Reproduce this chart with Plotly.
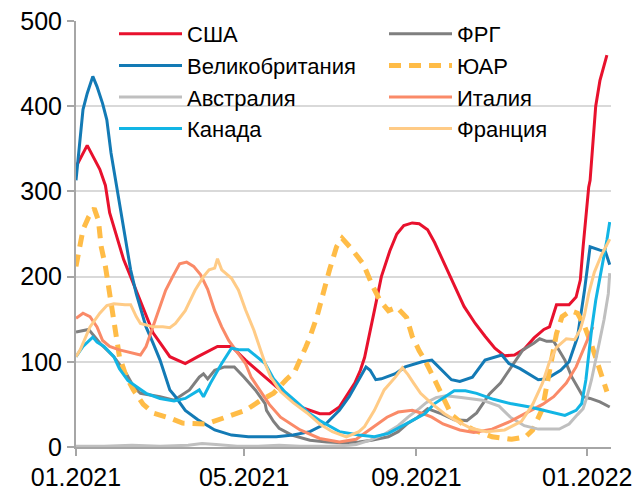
import pandas as pd
import plotly.graph_objects as go

START = pd.Timestamp("2021-01-01")

# ---- data: day offsets from 01.01.2021 and 7-day average values ----
usa_days = [0, 8, 17, 21, 24, 29, 31, 34, 39, 55, 67, 78, 87, 101, 111, 121, 135, 146, 160, 174, 181, 188, 196, 199, 203, 206, 213, 218, 224, 229, 234, 240, 245, 251, 256, 263, 270, 277, 285, 292, 299, 306, 313, 320, 327, 334, 338, 343, 352, 357, 360, 362, 364, 366, 367, 369, 371, 374, 377, 379]
usa_vals = [329, 354, 326, 307, 275, 248, 235, 220, 200, 134, 106, 98, 106, 118, 118, 102, 82, 67, 47, 39, 39, 47, 67, 75, 90, 105, 160, 200, 230, 250, 260, 263, 262, 255, 240, 216, 190, 165, 145, 130, 116, 107, 108, 115, 128, 138, 141, 167, 167, 176, 196, 235, 275, 305, 313, 360, 400, 430, 450, 460]

frg_days = [0, 9, 17, 27, 36, 41, 46, 60, 70, 74, 81, 88, 91, 94, 99, 106, 113, 120, 128, 135, 136, 141, 145, 154, 167, 179, 191, 202, 211, 223, 230, 237, 244, 251, 261, 270, 279, 286, 295, 303, 310, 319, 327, 331, 336, 341, 349, 354, 362, 367, 374, 381]
frg_vals = [135, 138, 122, 106, 86, 71, 63, 59, 55, 59, 67, 82, 86, 80, 90, 94, 94, 82, 67, 51, 43, 30, 22, 14, 8, 6, 5, 6, 8, 12, 18, 28, 35, 45, 39, 32, 31, 40, 62, 75, 92, 114, 122, 127, 124, 124, 102, 82, 59, 57, 53, 47]

uk_days = [0, 5, 8, 12, 15, 19, 22, 25, 29, 31, 35, 39, 43, 48, 50, 55, 60, 67, 71, 78, 87, 99, 111, 123, 135, 143, 155, 167, 179, 188, 195, 202, 207, 210, 214, 218, 228, 235, 247, 254, 261, 268, 274, 283, 292, 304, 309, 317, 330, 336, 346, 352, 358, 363, 367, 370, 374, 378, 380, 381]
uk_vals = [313, 396, 415, 435, 423, 403, 384, 345, 306, 286, 247, 208, 180, 153, 141, 122, 102, 67, 59, 43, 32, 20, 14, 12, 12, 12, 14, 18, 28, 43, 59, 79, 94, 90, 79, 80, 86, 94, 100, 102, 90, 79, 77, 82, 102, 108, 98, 92, 79, 80, 90, 100, 129, 184, 235, 233, 231, 229, 219, 214]

rsa_days = [0, 3, 5, 9, 13, 16, 18, 21, 23, 25, 28, 31, 36, 41, 48, 55, 67, 76, 93, 107, 121, 132, 141, 150, 156, 164, 167, 172, 176, 181, 186, 190, 197, 205, 212, 217, 223, 229, 236, 240, 245, 249, 256, 263, 268, 276, 284, 297, 311, 321, 326, 333, 339, 343, 347, 353, 358, 363, 368, 373, 377, 379]
rsa_vals = [212, 235, 255, 270, 280, 266, 235, 212, 190, 165, 133, 106, 82, 67, 50, 40, 34, 28, 27, 35, 43, 55, 63, 79, 88, 117, 129, 153, 180, 208, 235, 245, 232, 215, 188, 172, 160, 164, 152, 130, 113, 102, 79, 55, 38, 27, 20, 12, 9, 12, 20, 45, 100, 133, 153, 160, 157, 142, 120, 95, 75, 65]

aus_days = [0, 20, 40, 60, 80, 90, 100, 115, 130, 145, 160, 180, 195, 200, 210, 220, 230, 237, 245, 250, 257, 264, 275, 290, 302, 310, 320, 330, 345, 352, 358, 362, 365, 368, 373, 377, 380, 381]
aus_vals = [1, 1, 2, 1, 2, 4, 3, 1, 1, 2, 1, 1, 2, 3, 8, 15, 25, 35, 45, 52, 58, 60, 58, 55, 48, 35, 25, 21, 21, 27, 38, 45, 60, 79, 118, 150, 180, 204]

ita_days = [0, 5, 10, 15, 19, 24, 31, 41, 46, 50, 55, 60, 64, 69, 74, 79, 84, 89, 94, 99, 104, 109, 114, 121, 125, 132, 138, 146, 160, 174, 188, 200, 213, 222, 230, 240, 248, 254, 262, 274, 284, 297, 310, 322, 333, 341, 350, 357, 364, 369]
ita_vals = [151, 157, 153, 141, 125, 118, 114, 110, 108, 118, 141, 164, 184, 200, 215, 217, 212, 202, 185, 160, 141, 125, 114, 98, 82, 65, 50, 35, 20, 10, 6, 9, 24, 35, 41, 43, 39, 35, 27, 20, 17, 21, 30, 40, 50, 59, 75, 94, 121, 141]

can_days = [0, 5, 12, 15, 20, 27, 31, 37, 43, 50, 60, 70, 78, 88, 91, 96, 104, 111, 117, 123, 129, 135, 141, 149, 156, 167, 174, 181, 188, 202, 213, 223, 232, 242, 249, 256, 263, 270, 278, 286, 298, 310, 324, 336, 349, 357, 361, 364, 368, 371, 376, 379, 381]
can_vals = [106, 118, 129, 123, 118, 106, 92, 78, 71, 63, 57, 54, 57, 67, 59, 75, 98, 116, 114, 114, 106, 98, 80, 65, 55, 39, 31, 24, 18, 14, 12, 16, 24, 32, 39, 51, 59, 66, 66, 63, 56, 51, 47, 42, 37, 43, 51, 79, 137, 172, 215, 243, 264]

fra_days = [0, 3, 10, 17, 22, 27, 35, 39, 43, 46, 55, 62, 67, 71, 78, 85, 91, 95, 99, 101, 104, 111, 116, 121, 127, 131, 135, 139, 146, 155, 165, 174, 183, 193, 202, 206, 213, 220, 228, 233, 237, 241, 246, 254, 263, 270, 282, 293, 306, 318, 326, 333, 338, 343, 350, 356, 360, 363, 366, 370, 375, 381]
fra_vals = [106, 114, 141, 157, 166, 168, 167, 167, 153, 145, 141, 141, 140, 145, 160, 184, 200, 208, 210, 221, 208, 198, 184, 161, 137, 118, 98, 82, 65, 52, 40, 27, 18, 12, 18, 24, 43, 67, 82, 93, 85, 75, 63, 51, 39, 32, 22, 18, 20, 30, 50, 75, 100, 117, 127, 126, 138, 155, 180, 205, 225, 244]

# name, days, values, colour, width, dash, legend column
series = [
    ("США", usa_days, usa_vals, "#E8112D", 3, "solid", "legend"),
    ("ФРГ", frg_days, frg_vals, "#7F7F7F", 3, "solid", "legend2"),
    ("Великобритания", uk_days, uk_vals, "#137AB5", 3, "solid", "legend"),
    ("ЮАР", rsa_days, rsa_vals, "#FFBC47", 5, "12px,8px", "legend2"),
    ("Австралия", aus_days, aus_vals, "#BFBFBF", 3, "solid", "legend"),
    ("Италия", ita_days, ita_vals, "#FA8A68", 3, "solid", "legend2"),
    ("Канада", can_days, can_vals, "#12B5E5", 3, "solid", "legend"),
    ("Франция", fra_days, fra_vals, "#FFCB86", 3, "solid", "legend2"),
]

tick_dates = ["2021-01-01", "2021-05-01", "2021-09-01", "2022-01-01"]
tick_text = ["01.2021", "05.2021", "09.2021", "01.2022"]
y_ticks = [0, 100, 200, 300, 400, 500]

fig = go.Figure()
for name, days, vals, color, width, dash, leg in series:
    x = START + pd.to_timedelta(days, unit="D")
    fig.add_trace(go.Scatter(
        x=x, y=vals, mode="lines", name=name, legend=leg,
        line=dict(color=color, width=width, dash=dash),
    ))

# the page body adds an 8px offset, so the figure is 632x483
W, H = 632, 483
font = "Liberation Sans, Arial, sans-serif"
leg_common = dict(
    orientation="v", xanchor="left", yanchor="top", itemwidth=63,
    xref="container", yref="container",
    font=dict(family=font, size=22, color="black"),
    bgcolor="rgba(0,0,0,0)", tracegroupgap=0,
)
fig.update_layout(
    width=W, height=H,
    margin=dict(l=68, r=29, t=13, b=44, autoexpand=False),
    paper_bgcolor="white", plot_bgcolor="white",
    font=dict(family=font, size=24, color="black"),
    showlegend=True,
    legend=dict(x=106 / W, y=1 - 5 / H, **leg_common),
    legend2=dict(x=376 / W, y=1 - 5 / H, **leg_common),
    xaxis=dict(
        range=["2021-01-01", "2022-01-17 22:00"],
        tickvals=tick_dates, ticktext=tick_text,
        showgrid=False, showline=True, linecolor="#A6A6A6", linewidth=2,
        ticks="outside", ticklen=7, tickwidth=2, tickcolor="#A6A6A6",
        tickfont=dict(size=25), zeroline=False, automargin=False,
        ticklabeloverflow="allow",
    ),
    yaxis=dict(
        range=[0, 500], tickvals=y_ticks,
        showgrid=True, gridcolor="#D9D9D9", gridwidth=2,
        showline=True, linecolor="#A6A6A6", linewidth=2,
        ticks="outside", ticklen=7, tickwidth=2, tickcolor="#A6A6A6",
        tickfont=dict(size=25), zeroline=False, automargin=False,
        ticklabeloverflow="allow",
    ),
)

fig.write_html("out.html")
